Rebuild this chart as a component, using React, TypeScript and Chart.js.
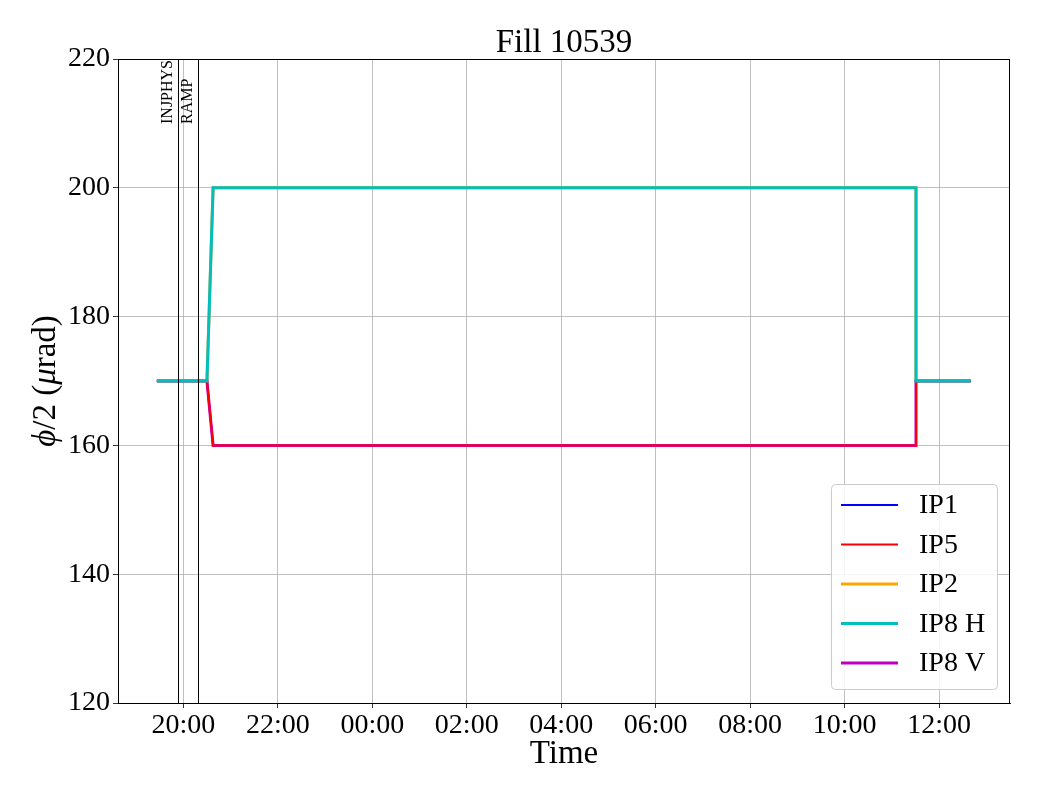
import React, { useEffect, useRef } from "react";
import { Chart, registerables } from "chart.js";

Chart.register(...registerables);

// Time is in hours since 00:00 of the first day (24 = 00:00 next day)
const seriesNames = ["IP1", "IP5", "IP2", "IP8 H", "IP8 V"];
const seriesColors = ["#0000ff", "#ff0000", "#ffa500", "#00bfbf", "#bf00bf"];
const seriesWidths = [2, 2, 3, 3, 3];
const seriesOrder = [3, 1, 4, 0, 2];

const stepTimes = [19.44, 20.5, 20.63, 35.51, 35.51, 36.67];
const ip1Values = [170, 170, 160, 160, 170, 170];
const ip5Values = [170, 170, 160, 160, 170, 170];
const ip2Values = [170, 170, 200, 200, 170, 170];
const ip8hValues = [170, 170, 200, 200, 170, 170];
const ip8vValues = [170, 170, 160, 160, 170, 170];
const seriesValues = [ip1Values, ip5Values, ip2Values, ip8hValues, ip8vValues];

const eventNames = ["INJPHYS", "RAMP"];
const eventTimes = [19.88, 20.3];

const xTickValues = [20, 22, 24, 26, 28, 30, 32, 34, 36];
const xMin = 18.617;
const xMax = 37.5;
const yMin = 120;
const yMax = 220;
const yStep = 20;

const titleText = "Fill 10539";
const xTitleText = "Time";

const SERIF = "'Liberation Serif', 'DejaVu Serif', serif";

function fmtHour(v: number): string {
  const h = ((Math.round(v) % 24) + 24) % 24;
  return (h < 10 ? "0" : "") + h + ":00";
}

const decorPlugin = {
  id: "decor",
  afterDatasetsDraw(chart: any) {
    const ctx = chart.ctx;
    const area = chart.chartArea;
    const xs = chart.scales.x;
    ctx.save();
    // event lines and labels
    eventTimes.forEach((t, i) => {
      const px = Math.round(xs.getPixelForValue(t)) + 0.5;
      ctx.strokeStyle = "#000";
      ctx.lineWidth = 1;
      ctx.beginPath();
      ctx.moveTo(px, area.top);
      ctx.lineTo(px, area.bottom);
      ctx.stroke();
      ctx.save();
      ctx.translate(px - 3, 124);
      ctx.rotate(-Math.PI / 2);
      ctx.font = "16px " + SERIF;
      ctx.fillStyle = "#000";
      ctx.textAlign = "left";
      ctx.textBaseline = "bottom";
      ctx.fillText(eventNames[i], 0, 0);
      ctx.restore();
    });
    ctx.restore();
  },
  afterDraw(chart: any) {
    const ctx = chart.ctx;
    const area = chart.chartArea;
    ctx.save();
    // full box
    ctx.strokeStyle = "#000";
    ctx.lineWidth = 1;
    ctx.strokeRect(area.left + 0.5, area.top + 0.5, area.right - area.left - 1, area.bottom - area.top);
    // title
    ctx.fillStyle = "#000";
    ctx.font = "33px " + SERIF;
    ctx.textAlign = "center";
    ctx.textBaseline = "alphabetic";
    ctx.fillText(titleText, (area.left + area.right) / 2, 52);
    // x title
    ctx.fillText(xTitleText, (area.left + area.right) / 2, 763);
    // y title with italic parts
    const parts: [string, boolean][] = [["ϕ", true], ["/2 (", false], ["μ", true], ["rad)", false]];
    ctx.save();
    const cy = (area.top + area.bottom) / 2;
    ctx.translate(55, cy);
    ctx.rotate(-Math.PI / 2);
    let total = 0;
    parts.forEach(([s, it]) => {
      ctx.font = (it ? "italic " : "") + "33px " + SERIF;
      total += ctx.measureText(s).width;
    });
    let x = -total / 2;
    ctx.textAlign = "left";
    parts.forEach(([s, it]) => {
      ctx.font = (it ? "italic " : "") + "33px " + SERIF;
      ctx.fillText(s, x, 0);
      x += ctx.measureText(s).width;
    });
    ctx.restore();
    // legend
    const lx = 831, ly = 484, lw = 166, lh = 205;
    ctx.fillStyle = "rgba(255,255,255,0.85)";
    ctx.strokeStyle = "#cccccc";
    ctx.lineWidth = 1;
    ctx.beginPath();
    (ctx as any).roundRect(lx + 0.5, ly + 0.5, lw, lh, 4);
    ctx.fill();
    ctx.stroke();
    seriesNames.forEach((name, i) => {
      const yy = ly + 21 + i * 39.5;
      ctx.strokeStyle = seriesColors[i];
      ctx.lineWidth = seriesWidths[i];
      ctx.beginPath();
      ctx.moveTo(841, yy);
      ctx.lineTo(898, yy);
      ctx.stroke();
      ctx.fillStyle = "#000";
      ctx.font = "28px " + SERIF;
      ctx.textAlign = "left";
      ctx.textBaseline = "middle";
      ctx.fillText(name, 919, yy + 1);
    });
    ctx.restore();
  },
};

export default function App() {
  const ref = useRef<HTMLCanvasElement | null>(null);
  useEffect(() => {
    document.body.style.margin = "0";
    const canvas = ref.current;
    if (!canvas) return;
    const datasets = seriesNames.map((name, i) => ({
      label: name,
      data: stepTimes.map((t, j) => ({ x: t, y: seriesValues[i][j] })),
      borderColor: seriesColors[i],
      backgroundColor: seriesColors[i],
      borderWidth: seriesWidths[i],
      pointRadius: 0,
      tension: 0,
      fill: false,
      order: seriesOrder[i],
    }));
    const chart = new Chart(canvas, {
      type: "line",
      data: { datasets },
      plugins: [decorPlugin],
      options: {
        animation: false,
        responsive: false,
        devicePixelRatio: 1,
        layout: { padding: { top: 59, right: 30, left: 0, bottom: 0 } },
        plugins: { legend: { display: false }, title: { display: false }, tooltip: { enabled: false } },
        scales: {
          x: {
            type: "linear",
            min: xMin,
            max: xMax,
            afterFit(scale: any) {
              scale.height = 97;
            },
            afterBuildTicks(scale: any) {
              scale.ticks = xTickValues.map((v) => ({ value: v }));
            },
            ticks: {
              color: "#000",
              font: { family: SERIF, size: 28 },
              padding: 1,
              maxRotation: 0,
              autoSkip: false,
              callback: (v: any) => fmtHour(Number(v)),
            },
            grid: { color: "#b0b0b0", lineWidth: 0.8, tickColor: "#000", tickLength: 5, drawTicks: true },
            border: { display: true, color: "#000", width: 1 },
          },
          y: {
            type: "linear",
            min: yMin,
            max: yMax,
            afterFit(scale: any) {
              scale.width = 118;
            },
            ticks: {
              stepSize: yStep,
              color: "#000",
              font: { family: SERIF, size: 28 },
              padding: 3,
            },
            grid: { color: "#b0b0b0", lineWidth: 0.8, tickColor: "#000", tickLength: 5, drawTicks: true },
            border: { display: true, color: "#000", width: 1 },
          },
        },
      },
    } as any);
    return () => chart.destroy();
  }, []);
  return (
    <div style={{ position: "absolute", left: 0, top: 0, width: 1040, height: 800, background: "#fff" }}>
      <canvas ref={ref} width={1040} height={800} style={{ width: 1040, height: 800 }} />
    </div>
  );
}
